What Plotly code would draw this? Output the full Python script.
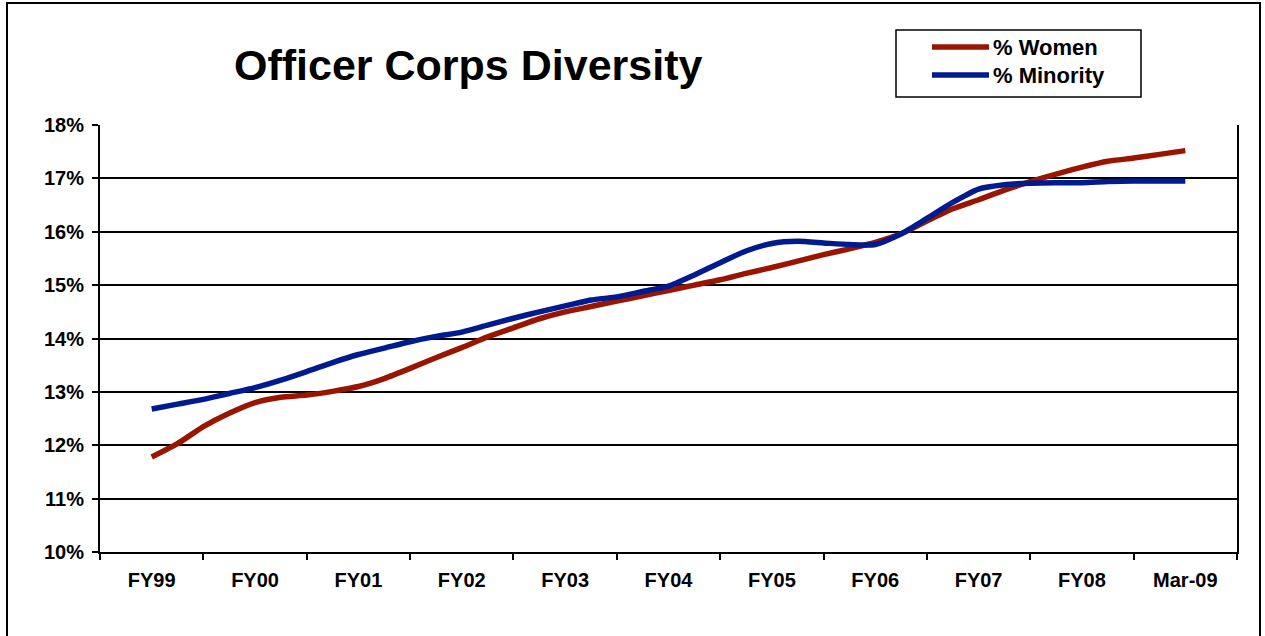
import plotly.graph_objects as go

categories = ["FY99", "FY00", "FY01", "FY02", "FY03", "FY04", "FY05", "FY06", "FY07", "FY08", "Mar-09"]

# quarterly positions (0 = FY99 ... 10 = Mar-09)
quarter_x = [i / 4 for i in range(41)]

pct_women = [11.78, 12.03, 12.35, 12.60, 12.80, 12.90, 12.94, 13.01, 13.10, 13.25,
             13.44, 13.64, 13.83, 14.03, 14.20, 14.37, 14.50, 14.60, 14.70, 14.80,
             14.90, 15.00, 15.10, 15.22, 15.33, 15.45, 15.57, 15.68, 15.80, 15.96,
             16.20, 16.43, 16.60, 16.78, 16.94, 17.08, 17.21, 17.32, 17.38, 17.45,
             17.52]

pct_minority = [12.68, 12.77, 12.86, 12.97, 13.08, 13.22, 13.38, 13.55, 13.70, 13.82,
                13.94, 14.04, 14.12, 14.25, 14.38, 14.50, 14.61, 14.72, 14.78, 14.88,
                14.98, 15.19, 15.42, 15.64, 15.78, 15.82, 15.79, 15.76, 15.76, 15.96,
                16.25, 16.55, 16.80, 16.88, 16.91, 16.92, 16.92, 16.94, 16.95, 16.95,
                16.95]

series_names = ["% Women", "% Minority"]

y_ticks = [10, 11, 12, 13, 14, 15, 16, 17, 18]
y_labels = [f"{v}%" for v in y_ticks]

RED = "#991500"
BLUE = "#001a8f"
FONT = "Liberation Sans, Arial, sans-serif"

W, H = 1265, 636
L, R, T, B = 100, 28, 125, 84
PW, PH = W - L - R, H - T - B


def px(x):
    return (x - L) / PW


def py(y):
    return 1 + (T - y) / PH


fig = go.Figure()
for name, vals, col in [(series_names[0], pct_women, RED), (series_names[1], pct_minority, BLUE)]:
    fig.add_trace(go.Scatter(x=quarter_x, y=vals, mode="lines", name=name, showlegend=False,
                             line=dict(color=col, width=5.5, shape="spline", smoothing=0.6)))

shapes = [
    # outer frame
    dict(type="rect", xref="paper", yref="paper",
         x0=px(7), x1=px(1260), y0=py(660), y1=py(3),
         line=dict(color="black", width=2), fillcolor="rgba(0,0,0,0)", layer="below"),
    # legend box
    dict(type="rect", xref="paper", yref="paper",
         x0=px(896), x1=px(1141), y0=py(97), y1=py(30),
         line=dict(color="black", width=1.5), fillcolor="white"),
]
annotations = [
    dict(text="Officer Corps Diversity", xref="paper", yref="paper",
         x=px(468), y=py(65), xanchor="center", yanchor="middle", showarrow=False,
         font=dict(size=43, weight="bold", family=FONT)),
]
for name, col, yy in [(series_names[0], RED, 47), (series_names[1], BLUE, 75)]:
    shapes.append(dict(type="line", xref="paper", yref="paper",
                       x0=px(932), x1=px(989), y0=py(yy), y1=py(yy),
                       line=dict(color=col, width=5.5)))
    annotations.append(dict(text=name, xref="paper", yref="paper",
                            x=px(991), y=py(yy), xanchor="left", yanchor="middle",
                            showarrow=False,
                            font=dict(size=22, weight="bold", family=FONT)))

fig.update_layout(
    width=W, height=H,
    margin=dict(l=L, r=R, t=T, b=B),
    paper_bgcolor="white", plot_bgcolor="white",
    font=dict(family=FONT, color="black"),
    showlegend=False,
    xaxis=dict(
        range=[-0.5, 10.5],
        tickmode="array", tickvals=list(range(len(categories))), ticktext=categories,
        ticks="", showgrid=False, zeroline=False,
        showline=True, linecolor="black", linewidth=2, mirror=False,
        tickfont=dict(family=FONT, size=20, weight="bold"),
        ticklabelstandoff=9,
        minor=dict(tickmode="array", tickvals=[i - 0.5 for i in range(12)],
                   ticks="outside", ticklen=6, tickwidth=1.5, tickcolor="black",
                   showgrid=False),
        fixedrange=True,
    ),
    yaxis=dict(
        range=[10, 18],
        tickmode="array", tickvals=y_ticks, ticktext=y_labels,
        ticks="outside", ticklen=6, tickwidth=1.5, tickcolor="black",
        showgrid=True, gridcolor="black", gridwidth=1.5,
        zeroline=False,
        showline=True, linecolor="black", linewidth=2, mirror=True,
        tickfont=dict(size=20, weight="bold", family=FONT),
        ticklabelstandoff=4,
        fixedrange=True,
    ),
    annotations=annotations,
    shapes=shapes,
)

fig.write_html("out.html", config={"displayModeBar": False},
               post_script="document.body.style.margin='0';")
